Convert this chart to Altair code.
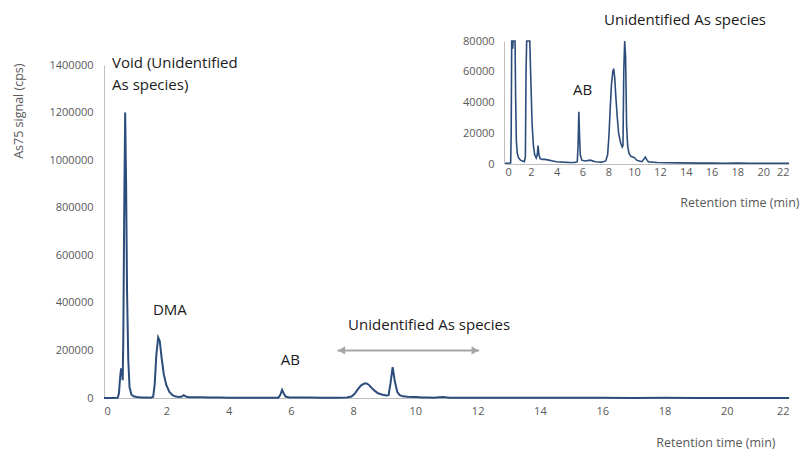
import altair as alt
import pandas as pd

# ---------------- data ----------------
time_min = [0.0, 0.3, 0.44, 0.48, 0.52, 0.55, 0.58, 0.60, 0.62, 0.65, 0.68, 0.71, 0.74,
            0.78, 0.82, 0.88, 0.95, 1.05, 1.2, 1.35, 1.5, 1.58, 1.63, 1.68, 1.74, 1.79,
            1.85, 1.92, 2.0, 2.1, 2.2, 2.3, 2.42, 2.5, 2.56, 2.63, 2.72, 2.9, 3.1, 3.4,
            3.7, 4.0, 4.5, 5.0, 5.4, 5.6, 5.66, 5.72, 5.77, 5.83, 5.95, 6.2, 6.6, 7.0,
            7.5, 7.8, 7.95, 8.05, 8.15, 8.25, 8.35, 8.42, 8.5, 8.6, 8.7, 8.8, 8.95, 9.08,
            9.14, 9.2, 9.27, 9.34, 9.42, 9.5, 9.6, 9.75, 9.9, 10.05, 10.2, 10.4, 10.6,
            10.75, 10.87, 10.97, 11.1, 11.4, 11.8, 12.5, 13.5, 15.0, 16.0, 17.0, 18.0,
            19.0, 20.0, 21.0, 22.0]
signal_cps = [500, 500, 800, 20000, 90000, 125000, 110000, 75000, 250000, 800000, 1200000,
              900000, 450000, 160000, 45000, 15000, 7000, 4000, 2500, 2000, 1500, 5000,
              60000, 180000, 255000, 240000, 170000, 100000, 55000, 26000, 12000, 6000,
              4000, 6000, 12000, 6000, 3500, 3000, 3000, 2500, 2000, 1500, 1200, 1000,
              1000, 1500, 12000, 34000, 20000, 6000, 2500, 2000, 2500, 1500, 1200, 2000,
              6000, 18000, 36000, 52000, 60000, 62000, 56000, 42000, 30000, 20000, 14000,
              11000, 12000, 60000, 130000, 70000, 25000, 12000, 7000, 5000, 4500, 4000,
              2500, 2000, 1500, 3000, 4500, 3000, 1500, 1200, 1000, 800, 700, 600, 600,
              500, 600, 500, 500, 500, 500]

x_ticks = list(range(0, 23, 2))
main_y_ticks = list(range(0, 1400001, 200000))
inset_y_ticks = list(range(0, 80001, 20000))

main_labels = ["Void (Unidentified", "As species)", "DMA", "AB", "Unidentified As species"]
main_label_t = [0.26, 0.26, 1.57, 5.68, 7.84]
main_label_s = [1408000, 1316000, 370000, 160000, 307000]

inset_labels = ["AB", "Unidentified As species"]
inset_label_t = [5.27, 7.67]
inset_label_s = [48000, 93700]

arrow_t = [7.5, 12.05]
arrow_s = 200000

# ---------------- styling ----------------
W, H = 685, 333
FONT = "Open Sans"
NAVY = "#2C4D7C"
AXIS_GRAY = "#BFBFBF"
TICK_GRAY = "#595959"
TEXT = "#1A1A1A"
ARROW = "#A6A6A6"

df = pd.DataFrame({"t": time_min, "s": signal_cps})
main_lab = pd.DataFrame({"t": main_label_t, "s": main_label_s, "label": main_labels})
inset_lab = pd.DataFrame({"t": inset_label_t, "s": inset_label_s, "label": inset_labels})
arrow_df = pd.DataFrame({"t0": [arrow_t[0]], "t1": [arrow_t[1]], "s": [arrow_s]})
head_l = pd.DataFrame({"t": [arrow_t[0]], "s": [arrow_s]})
head_r = pd.DataFrame({"t": [arrow_t[1]], "s": [arrow_s]})


def x_main():
    return alt.Scale(domain=[0, 22], range=[0, W], nice=False, zero=False)


def y_main():
    return alt.Scale(domain=[0, 1400000], range=[H, 0], nice=False)


def x_in():
    return alt.Scale(domain=[0, 22], range=[401, 685], nice=False, zero=False)


def y_in():
    return alt.Scale(domain=[0, 80000], range=[99, -24], nice=False)


common_axis = dict(grid=False, ticks=False, tickSize=0, domainColor=AXIS_GRAY,
                   domainWidth=1, labelColor=TICK_GRAY, labelFont=FONT,
                   labelFontSize=11, titleFont=FONT, titleFontSize=12.5,
                   titleFontWeight="normal", titleColor=TICK_GRAY)

main_line = alt.Chart(df).mark_line(color=NAVY, strokeWidth=2).encode(
    x=alt.X("t:Q", scale=x_main(), axis=alt.Axis(
        values=x_ticks, orient="bottom", labelPadding=7,
        title="Retention time (min)", titleAlign="right", titleBaseline="middle",
        titleX=671, titleY=44, **common_axis)),
    y=alt.Y("s:Q", scale=y_main(), axis=alt.Axis(
        values=main_y_ticks, format="d", orient="left", labelPadding=11,
        title="As75 signal (cps)", titleAngle=270, titleAlign="right",
        titleBaseline="middle", titleX=-86, titleY=-2, **common_axis)),
)

main_text = alt.Chart(main_lab).mark_text(
    align="left", baseline="middle", font=FONT, fontSize=15, color=TEXT
).encode(
    x=alt.X("t:Q", scale=x_main(), axis=None),
    y=alt.Y("s:Q", scale=y_main(), axis=None),
    text="label:N",
)

arrow_rule = alt.Chart(arrow_df).mark_rule(color=ARROW, strokeWidth=2).encode(
    x=alt.X("t0:Q", scale=x_main(), axis=None),
    x2="t1:Q",
    y=alt.Y("s:Q", scale=y_main(), axis=None),
)
arrow_left = alt.Chart(head_l).mark_point(
    shape="triangle-left", filled=True, size=70, color=ARROW, opacity=1, xOffset=4
).encode(
    x=alt.X("t:Q", scale=x_main(), axis=None),
    y=alt.Y("s:Q", scale=y_main(), axis=None),
)
arrow_right = alt.Chart(head_r).mark_point(
    shape="triangle-right", filled=True, size=70, color=ARROW, opacity=1, xOffset=-4
).encode(
    x=alt.X("t:Q", scale=x_main(), axis=None),
    y=alt.Y("s:Q", scale=y_main(), axis=None),
)

inset_line = alt.Chart(df).transform_calculate(
    sc="min(datum.s, 80000)"
).mark_line(color=NAVY, strokeWidth=1.6).encode(
    x=alt.X("t:Q", scale=x_in(), axis=alt.Axis(
        values=x_ticks, orient="bottom", offset=-234, labelPadding=2,
        title="Retention time (min)", titleAlign="right", titleBaseline="middle",
        titleX=695, titleY=38, **common_axis)),
    y=alt.Y("sc:Q", scale=y_in(), axis=alt.Axis(
        values=inset_y_ticks, format="d", orient="left", offset=-400,
        labelPadding=10, title=None, **common_axis)),
)

inset_text = alt.Chart(inset_lab).mark_text(
    align="left", baseline="middle", font=FONT, fontSize=15, color=TEXT
).encode(
    x=alt.X("t:Q", scale=x_in(), axis=None),
    y=alt.Y("s:Q", scale=y_in(), axis=None),
    text="label:N",
)

chart = alt.layer(
    main_line, arrow_rule, arrow_left, arrow_right, main_text, inset_line, inset_text
).resolve_scale(
    x="independent", y="independent"
).resolve_axis(
    x="independent", y="independent"
).properties(
    width=W, height=H,
    autosize=alt.AutoSizeParams(type="none"),
    padding={"left": 96, "top": 57, "right": 11, "bottom": 54},
    background="white",
).configure_view(stroke=None)

chart.save("out.html", embed_options={"renderer": "svg", "actions": False})
